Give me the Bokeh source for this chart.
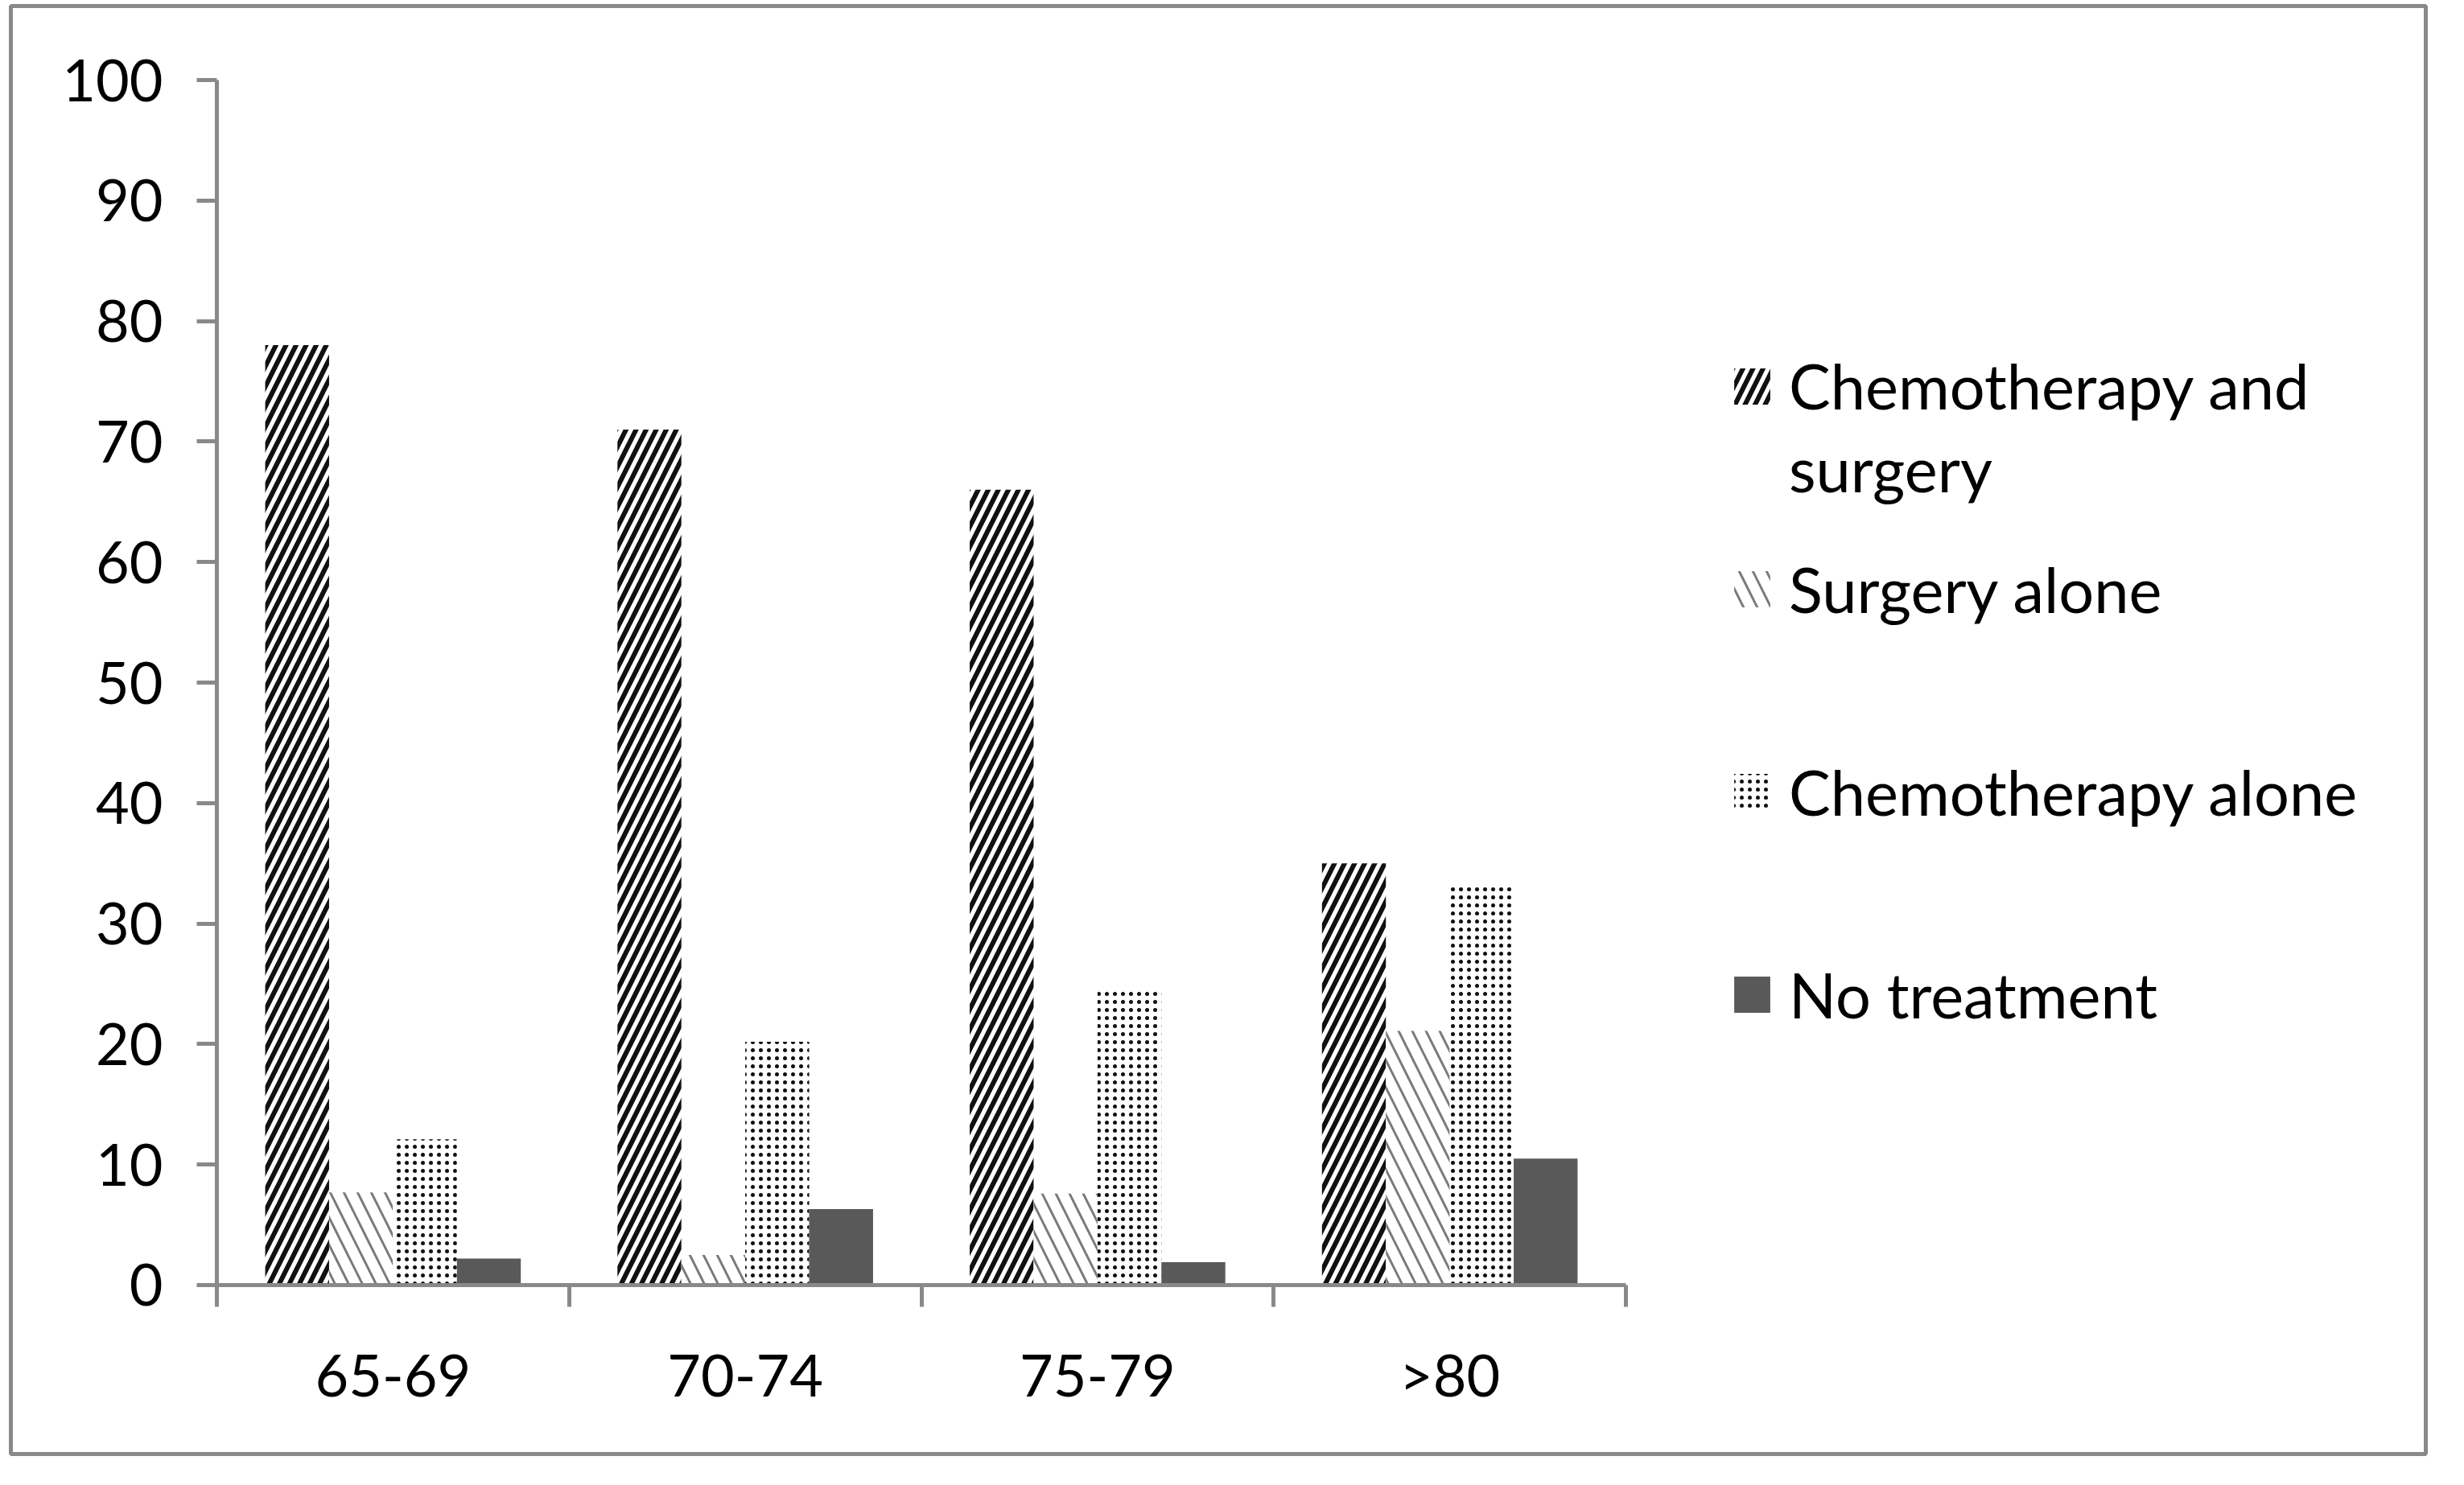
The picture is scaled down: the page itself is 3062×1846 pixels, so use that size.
from bokeh.plotting import figure
from bokeh.models import (ColumnDataSource, Range1d, FixedTicker, Legend, LegendItem,
                          LinearAxis)
from bokeh.transform import dodge
from bokeh.embed import file_html
from bokeh.resources import INLINE

# ---- data ----
categories = ["65-69", "70-74", "75-79", ">80"]
series_names = ["Chemotherapy and surgery", "Surgery alone", "Chemotherapy alone", "No treatment"]
legend_first_lines = ["Chemotherapy and", "surgery"]   # first legend entry, wrapped
chemo_surgery = [78.0, 71.0, 66.0, 35.0]
surgery_alone = [7.7, 2.5, 7.6, 21.1]
chemo_alone = [12.1, 20.2, 24.4, 33.3]
no_treatment = [2.2, 6.3, 1.9, 10.5]
y_ticks = [0, 10, 20, 30, 40, 50, 60, 70, 80, 90, 100]

FONT = "Lato"
AXIS_GRAY = "#898989"

src = ColumnDataSource(dict(
    x=list(range(len(categories))),
    cat=categories,
    cs=chemo_surgery, sa=surgery_alone, ca=chemo_alone, nt=no_treatment,
))

W, H = 3046, 1830
p = figure(width=W, height=H,
           x_range=Range1d(-1.08481, 5.77070), y_range=Range1d(-14.019, 106.142),
           x_axis_location=None, y_axis_location=None,
           output_backend="svg", toolbar_location=None,
           min_border_left=13, min_border_right=32, min_border_top=7,
           min_border_bottom=23)
p.outline_line_color = AXIS_GRAY
p.outline_line_width = 5
p.xgrid.visible = False
p.ygrid.visible = False
p.background_fill_color = "white"
p.border_fill_color = "white"

bw = 0.1814
r1 = p.vbar(x=dodge("x", -1.5 * bw, range=p.x_range), top="cs", width=bw, source=src,
            fill_color="white", line_color=None,
            hatch_pattern="/", hatch_color="#111111", hatch_scale=25, hatch_weight=6)
r2 = p.vbar(x=dodge("x", -0.5 * bw, range=p.x_range), top="sa", width=bw, source=src,
            fill_color="white", line_color=None,
            hatch_pattern="\\", hatch_color="#7a7a7a", hatch_scale=34, hatch_weight=3)
r3 = p.vbar(x=dodge("x", 0.5 * bw, range=p.x_range), top="ca", width=bw, source=src,
            fill_color="white", line_color=None,
            hatch_pattern=".", hatch_color="#111111", hatch_scale=10, hatch_weight=6.5)
r4 = p.vbar(x=dodge("x", 1.5 * bw, range=p.x_range), top="nt", width=bw, source=src,
            fill_color="#595959", line_color=None)
# invisible stand-in so the wrapped second line of the first legend entry gets no swatch
r_blank = p.vbar(x=[], top=[], width=bw, fill_alpha=0, line_alpha=0)

# y axis (fixed at the left edge of the first category)
yax = LinearAxis(fixed_location=-0.5, bounds=(0, 100))
yax.ticker = FixedTicker(ticks=y_ticks)
yax.axis_line_color = AXIS_GRAY
yax.axis_line_width = 5
yax.major_tick_line_color = AXIS_GRAY
yax.major_tick_line_width = 5
yax.major_tick_out = 25
yax.major_tick_in = 0
yax.minor_tick_line_color = None
yax.major_label_text_font = FONT
yax.major_label_text_font_size = "72px"
yax.major_label_text_color = "black"
yax.major_label_standoff = 42
p.add_layout(yax, "left")

# x axis (fixed at y = 0)
xax = LinearAxis(fixed_location=0, bounds=(-0.5, len(categories) - 0.5))
xax.ticker = FixedTicker(ticks=list(range(len(categories))),
                         minor_ticks=[i - 0.5 for i in range(len(categories) + 1)])
xax.major_label_overrides = {i: c for i, c in enumerate(categories)}
xax.axis_line_color = AXIS_GRAY
xax.axis_line_width = 5
xax.major_tick_line_color = None
xax.major_tick_out = 0
xax.major_tick_in = 0
xax.minor_tick_line_color = AXIS_GRAY
xax.minor_tick_line_width = 5
xax.minor_tick_out = 27
xax.minor_tick_in = 0
xax.major_label_text_font = FONT
xax.major_label_text_font_size = "72px"
xax.major_label_text_color = "black"
xax.major_label_standoff = 41
p.add_layout(xax, "below")


def make_legend(items, loc, spacing=0, label_height=110):
    return Legend(items=items, location=loc, orientation="vertical",
                  padding=0, margin=0, spacing=spacing,
                  border_line_color=None, background_fill_alpha=0,
                  glyph_width=56, glyph_height=56, label_height=label_height,
                  label_standoff=18, label_text_font=FONT,
                  label_text_font_size="77.5px", label_text_color="black")


legA = make_legend([LegendItem(label=legend_first_lines[0], renderers=[r1]),
                    LegendItem(label=legend_first_lines[1], renderers=[r_blank])],
                   (2136, 1173), spacing=0, label_height=103)
legB = make_legend([LegendItem(label=series_names[1], renderers=[r2]),
                    LegendItem(label=series_names[2], renderers=[r3]),
                    LegendItem(label=series_names[3], renderers=[r4])], (2136, 516), spacing=142)
p.add_layout(legA)
p.add_layout(legB)

open("out.html", "w").write(file_html(p, INLINE))
